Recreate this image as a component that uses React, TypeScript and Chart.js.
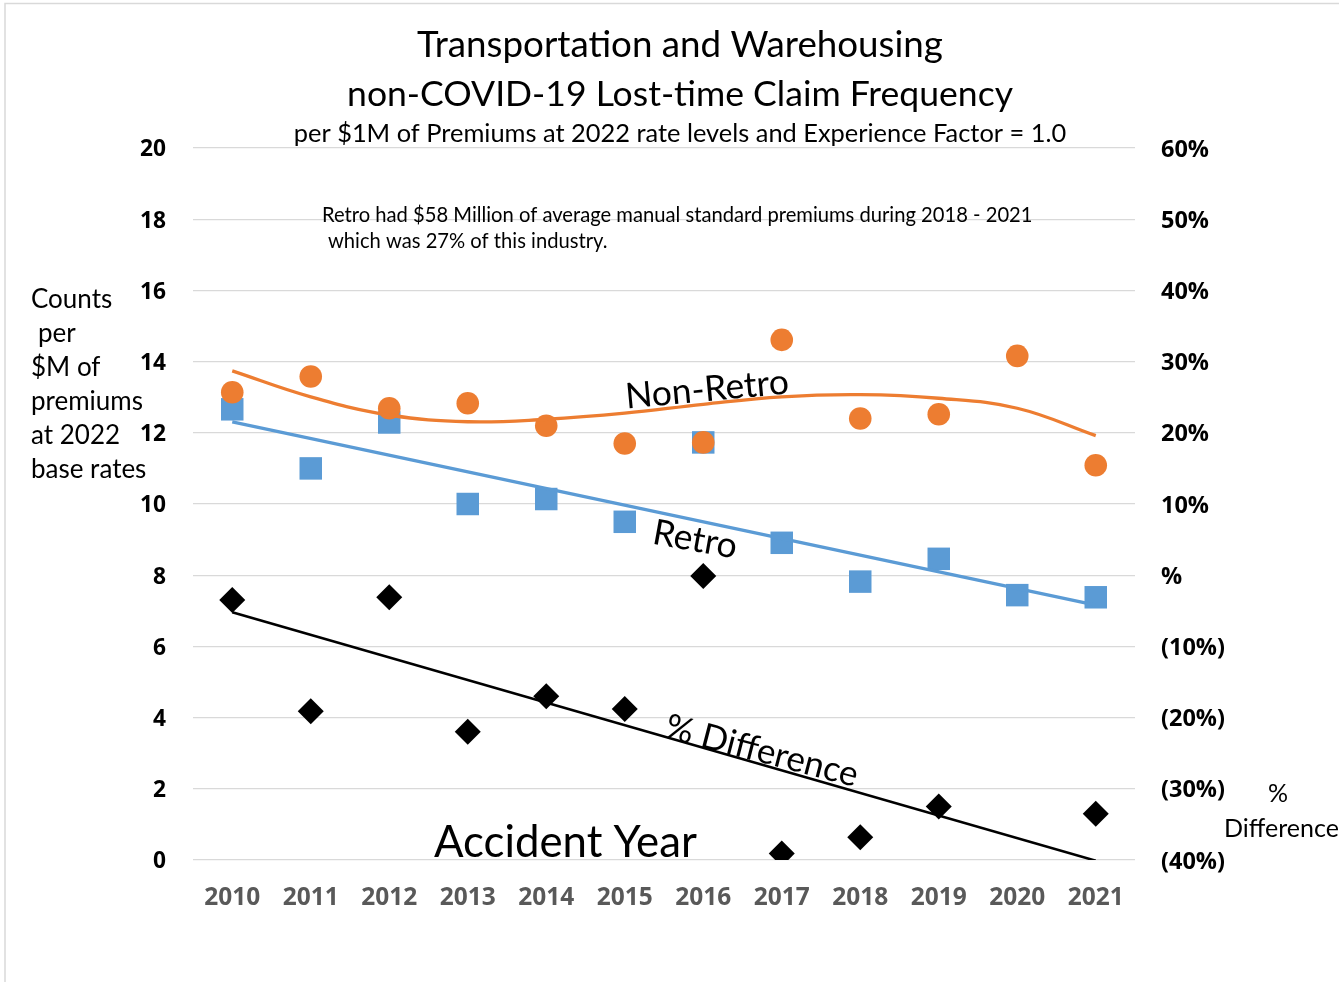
import React, { useEffect, useRef } from "react";
import { Chart, registerables } from "chart.js";

Chart.register(...registerables);

// ---- Data ----
const years = ["2010", "2011", "2012", "2013", "2014", "2015", "2016", "2017", "2018", "2019", "2020", "2021"];
const nonRetro = [13.14, 13.58, 12.69, 12.83, 12.2, 11.7, 11.73, 14.61, 12.4, 12.52, 14.16, 11.09];
const retro = [12.66, 11.0, 12.29, 10.0, 10.14, 9.5, 11.73, 8.91, 7.82, 8.46, 7.44, 7.38];
const pctDifference = [-3.5, -19.1, -3.1, -22.0, -17.0, -18.8, -0.1, -39.1, -36.8, -32.5, null, -33.5];
const nonRetroTrend = [13.74, 13.01, 12.5, 12.31, 12.38, 12.55, 12.8, 13.01, 13.07, 12.97, 12.69, 11.92];
const retroTrend = [12.31, null, null, null, null, null, null, null, null, null, null, 7.16];
const pctDifferenceTrend = [-5.2, null, null, null, null, null, null, null, null, null, null, -40.1];

const leftAxis = { min: 0, max: 20, step: 2 };
const rightAxis = { min: -40, max: 60, step: 10 };

const titleLines = ["Transportation and Warehousing", "non-COVID-19 Lost-time Claim Frequency"];
const subtitle = "per $1M of Premiums at 2022 rate levels and Experience Factor = 1.0";
const noteLines = [
  "Retro had $58 Million of average manual standard premiums during 2018 - 2021",
  "which was 27% of this industry.",
];
const leftTitle = ["Counts", "per", "$M of", "premiums", "at 2022", "base rates"];
const rightTitle = ["%", "Difference"];
const xTitle = "Accident Year";
const seriesLabels = ["Non-Retro", "Retro", "% Difference"];

const FONT = "Lato, 'Open Sans', 'Liberation Sans', sans-serif";
const TICK_FONT = "'Open Sans', 'Noto Sans', 'Liberation Sans', sans-serif";
const ORANGE = "#ED7D31";
const BLUE = "#5B9BD5";

function sizeFor(ctx: CanvasRenderingContext2D, text: string, width: number, weight: string, family = FONT) {
  ctx.font = `${weight} 100px ${family}`;
  const w = ctx.measureText(text).width;
  return (100 * width) / w;
}

function drawText(
  ctx: CanvasRenderingContext2D,
  text: string,
  x: number,
  y: number,
  size: number,
  weight: string,
  align: CanvasTextAlign,
  color: string,
  angle = 0
) {
  ctx.save();
  ctx.font = `${weight} ${size}px ${FONT}`;
  ctx.fillStyle = color;
  ctx.textAlign = align;
  ctx.textBaseline = "alphabetic";
  ctx.translate(x, y);
  ctx.rotate((angle * Math.PI) / 180);
  ctx.fillText(text, 0, 0);
  ctx.restore();
}

export default function App() {
  const canvasRef = useRef<HTMLCanvasElement | null>(null);

  useEffect(() => {
    const canvas = canvasRef.current;
    if (!canvas) return;
    const mctx = document.createElement("canvas").getContext("2d") as CanvasRenderingContext2D;
    const xTickSize = sizeFor(mctx, "2010", 56, "bold", TICK_FONT);
    const yTickSize = sizeFor(mctx, "20", 26, "bold", TICK_FONT);
    const y2TickSize = sizeFor(mctx, "(40%)", 64, "bold", TICK_FONT);

    const textPlugin = {
      id: "texts",
      beforeDraw(chart: any) {
        const ctx = chart.ctx as CanvasRenderingContext2D;
        ctx.save();
        ctx.strokeStyle = "#d9d9d9";
        ctx.lineWidth = 1.5;
        ctx.beginPath();
        ctx.moveTo(5, 990);
        ctx.lineTo(5, 3.5);
        ctx.lineTo(1345, 3.5);
        ctx.stroke();
        ctx.restore();
      },
      afterDraw(chart: any) {
        const ctx = chart.ctx as CanvasRenderingContext2D;
        // Titles
        drawText(ctx, titleLines[0], 680, 57, sizeFor(ctx, titleLines[0], 526, "normal"), "normal", "center", "#000");
        drawText(ctx, titleLines[1], 680, 106, sizeFor(ctx, titleLines[1], 666, "normal"), "normal", "center", "#000");
        drawText(ctx, subtitle, 680, 142, sizeFor(ctx, subtitle, 773, "normal"), "normal", "center", "#000");
        // Note
        const ns = sizeFor(ctx, noteLines[0], 711, "normal");
        drawText(ctx, noteLines[0], 322, 222, ns, "normal", "left", "#000");
        drawText(ctx, noteLines[1], 328, 248, ns, "normal", "left", "#000");
        // Left axis title
        const ls = sizeFor(ctx, "premiums", 112, "normal");
        const lx = [31, 38, 31, 31, 31, 31];
        leftTitle.forEach((t, i) => drawText(ctx, t, lx[i], 308 + i * 34, ls, "normal", "left", "#000"));
        // Right axis title
        const rs = sizeFor(ctx, rightTitle[1], 115, "normal");
        drawText(ctx, rightTitle[0], 1278, 802, rs, "normal", "center", "#000");
        drawText(ctx, rightTitle[1], 1224, 837, rs, "normal", "left", "#000");
        // X axis title
        drawText(ctx, xTitle, 434, 857, sizeFor(ctx, xTitle, 263, "normal"), "normal", "left", "#000");
        // Series labels on the lines
        drawText(ctx, seriesLabels[0], 708, 401, sizeFor(ctx, seriesLabels[0], 164, "normal"), "normal", "center", "#000", -5.3);
        drawText(ctx, seriesLabels[1], 693, 551, sizeFor(ctx, seriesLabels[1], 85, "normal"), "normal", "center", "#000", 10.2);
        drawText(ctx, seriesLabels[2], 759, 762, sizeFor(ctx, seriesLabels[2], 198, "normal"), "normal", "center", "#000", 14.6);
      },
    };

    const chart = new Chart(canvas, {
      type: "line",
      data: {
        labels: years,
        datasets: [
          {
            label: "Non-Retro",
            data: nonRetro,
            yAxisID: "y",
            showLine: false,
            pointStyle: "circle",
            pointRadius: 11.3,
            pointBackgroundColor: ORANGE,
            pointBorderColor: ORANGE,
            pointBorderWidth: 0,
            backgroundColor: ORANGE,
            borderColor: ORANGE,
            order: 1,
          },
          {
            label: "Retro",
            data: retro,
            yAxisID: "y",
            showLine: false,
            pointStyle: "rect",
            pointRadius: 15.9,
            pointBackgroundColor: BLUE,
            pointBorderColor: BLUE,
            pointBorderWidth: 0,
            backgroundColor: BLUE,
            borderColor: BLUE,
            order: 2,
          },
          {
            label: "% Difference",
            data: pctDifference,
            yAxisID: "y2",
            showLine: false,
            pointStyle: "rectRot",
            pointRadius: 13,
            pointBackgroundColor: "#000",
            pointBorderColor: "#000",
            pointBorderWidth: 0,
            backgroundColor: "#000",
            borderColor: "#000",
            order: 3,
          },
          {
            label: "Non-Retro trend",
            data: nonRetroTrend,
            yAxisID: "y",
            borderColor: ORANGE,
            borderWidth: 3.3,
            pointRadius: 0,
            tension: 0.4,
            fill: false,
            order: 0,
          },
          {
            label: "Retro trend",
            data: retroTrend,
            yAxisID: "y",
            borderColor: BLUE,
            borderWidth: 3.3,
            pointRadius: 0,
            spanGaps: true,
            fill: false,
            order: 0,
          },
          {
            label: "% Difference trend",
            data: pctDifferenceTrend,
            yAxisID: "y2",
            borderColor: "#000",
            borderWidth: 2.6,
            pointRadius: 0,
            spanGaps: true,
            fill: false,
            order: 0,
          },
        ],
      },
      options: {
        responsive: false,
        animation: false,
        events: [],
        layout: { padding: { left: 0, right: 0, top: 148, bottom: 0 } },
        plugins: {
          legend: { display: false },
          title: { display: false },
          tooltip: { enabled: false },
        },
        scales: {
          x: {
            type: "category",
            offset: true,
            grid: { display: false, drawTicks: false },
            border: { display: false },
            ticks: {
              color: "#595959",
              padding: 23,
              font: { family: TICK_FONT, size: xTickSize, weight: "bold" },
            },
            afterFit(scale: any) {
              scale.height = 982 - 860;
            },
          },
          y: {
            position: "left",
            min: leftAxis.min,
            max: leftAxis.max,
            grid: { color: "#d9d9d9", lineWidth: 1.3, drawTicks: false },
            border: { display: false },
            ticks: {
              stepSize: leftAxis.step,
              color: "#000",
              padding: 27,
              labelOffset: 2,
              font: { family: TICK_FONT, size: yTickSize, weight: "bold" },
            },
            afterFit(scale: any) {
              scale.width = 193;
            },
          },
          y2: {
            position: "right",
            min: rightAxis.min,
            max: rightAxis.max,
            grid: { display: false, drawTicks: false },
            border: { display: false },
            ticks: {
              stepSize: rightAxis.step,
              color: "#000",
              padding: 26,
              labelOffset: 2,
              font: { family: TICK_FONT, size: y2TickSize, weight: "bold" },
              callback(v: any) {
                const n = Number(v);
                if (n === 0) return "%";
                if (n < 0) return `(${Math.abs(n)}%)`;
                return `${n}%`;
              },
            },
            afterFit(scale: any) {
              scale.width = 1339 - 1135;
            },
          },
        },
      },
      plugins: [textPlugin],
    } as any);

    return () => chart.destroy();
  }, []);

  return (
    <div style={{ position: "absolute", left: 0, top: 0, width: 1339, height: 982, background: "#fff" }}>
      <canvas ref={canvasRef} width={1339} height={982} style={{ display: "block" }} />
    </div>
  );
}
